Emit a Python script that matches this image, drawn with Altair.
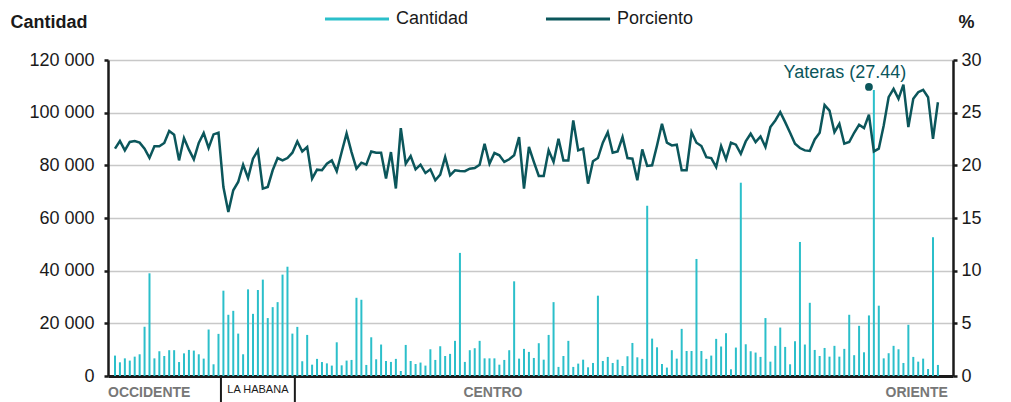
import altair as alt
import pandas as pd

# ---- data ----
cantidad = [
    7750, 5200, 6700, 5850, 7350, 8250, 18700, 39000, 6700, 9400,
    7600, 9800, 9800, 5300, 8600, 9900, 9650, 8250, 6600, 17650,
    4450, 16000, 32400, 23250, 24750, 16100, 8250, 32900, 23600, 32650,
    36600, 22000, 26150, 28050, 38500, 41500, 16100, 18650, 5600, 15600,
    4300, 6500, 5300, 4800, 3950, 12800, 4050, 5850, 6100, 29700,
    28950, 4200, 14700, 6350, 11950, 5700, 5350, 6500, 1900, 11800,
    5700, 4550, 5100, 3950, 10150, 6100, 11300, 7600, 8400, 13350,
    46750, 5350, 9800, 10550, 13350, 6700, 6700, 6700, 4300, 6100,
    9800, 35950, 6600, 10300, 9150, 6850, 12450, 6200, 15600, 28050,
    3450, 7600, 13350, 3450, 4700, 6200, 3300, 4950, 30500, 5700,
    7250, 4950, 6200, 3800, 7500, 12550, 7100, 6500, 64650, 14200,
    10900, 4550, 3200, 9800, 6600, 17900, 9500, 9500, 44450, 9500,
    6500, 7750, 14100, 11200, 16250, 2550, 10800, 73400, 12050, 9400,
    8900, 7250, 22000, 5450, 11450, 18400, 11050, 4450, 13200, 50900,
    11950, 27800, 9900, 7600, 10650, 7350, 11450, 7350, 10300, 23250,
    7900, 19050, 9000, 23000, 108600, 26700, 6700, 8650, 11450, 10150,
    4950, 19450, 7250, 5450, 6600, 2650, 52700, 4200,
]
porciento = [
    21.58, 22.31, 21.42, 22.22, 22.31, 22.15, 21.58, 20.70, 21.80, 21.80,
    22.12, 23.26, 22.91, 20.47, 22.59, 21.49, 20.57, 22.12, 23.07, 21.65,
    22.94, 23.10, 17.94, 15.58, 17.63, 18.42, 20.06, 18.80, 20.63, 21.42,
    17.79, 17.95, 19.53, 20.69, 20.47, 20.69, 21.20, 22.27, 21.32, 21.74,
    18.74, 19.59, 19.53, 20.16, 20.47, 19.43, 21.26, 23.03, 21.26, 19.68,
    20.25, 20.06, 21.32, 21.20, 21.20, 18.74, 21.26, 17.80, 23.53, 20.16,
    20.88, 19.62, 20.06, 19.27, 19.62, 18.58, 19.12, 20.79, 19.05, 19.53,
    19.46, 19.45, 19.68, 19.75, 20.06, 22.05, 20.16, 21.17, 20.95, 20.32,
    20.57, 20.95, 22.68, 17.79, 21.74, 20.32, 18.99, 18.99, 21.42, 20.32,
    22.52, 20.47, 20.47, 24.26, 21.42, 21.58, 18.26, 20.38, 20.69, 22.15,
    23.15, 21.20, 21.32, 22.68, 20.69, 20.63, 18.58, 21.51, 19.94, 20.00,
    21.89, 23.94, 22.15, 21.89, 21.96, 19.53, 19.53, 23.15, 22.15, 21.83,
    20.78, 20.69, 19.84, 21.83, 20.57, 22.15, 21.96, 21.10, 22.27, 23.00,
    22.21, 22.74, 21.74, 23.63, 24.26, 25.05, 24.10, 23.09, 22.05, 21.64,
    21.42, 21.36, 22.46, 23.09, 25.72, 25.20, 23.15, 23.94, 22.05, 22.21,
    23.09, 23.85, 23.53, 24.80, 21.32, 21.58, 23.79, 26.47, 27.26, 26.31,
    27.67, 23.63, 26.31, 26.94, 27.16, 26.47, 22.52, 25.99,
]
series_names = ["Cantidad", "Porciento"]
region_names = ["OCCIDENTE", "LA HABANA", "CENTRO", "ORIENTE"]
region_label_pos = [-1.42, 29.0, 76.7, 169.0]
region_label_align = ["left", "center", "center", "right"]
separators = [21.5, 36.5]
annot_label = ["Yateras (27.44)"]
annot_pos = [153]
annot_value = [27.44]
left_ticks = [0, 20000, 40000, 60000, 80000, 100000, 120000]
right_ticks = [0, 5, 10, 15, 20, 25, 30]

CYAN = "#2bbfca"
TEAL = "#0b565b"
FONT = "Liberation Sans, Arial, sans-serif"
TXT = "#1a1a1a"
GREY = "#777777"

n = len(cantidad)
df = pd.DataFrame({
    "i": list(range(n)),
    "cantidad": cantidad,
    "porciento": porciento,
    "zero": [0] * n,
})
df["serie_c"] = series_names[0]
df["serie_p"] = series_names[1]

reg = pd.DataFrame({"name": region_names, "pos": region_label_pos, "align": region_label_align})
sep = pd.DataFrame({"pos": separators})
ann = pd.DataFrame({"label": annot_label, "i": annot_pos, "v": annot_value})

xscale = alt.Scale(domain=[-1.42, 170.06], nice=False, zero=False)
xaxis = alt.Axis(labels=False, ticks=False, grid=False, title=None,
                 domainColor=TXT, domainWidth=3)

color_scale = alt.Scale(domain=series_names, range=[CYAN, TEAL])
legend = alt.Legend(title=None, orient="none", legendX=215, legendY=-75,
                    direction="horizontal", symbolType="stroke", symbolSize=4100,
                    symbolStrokeWidth=3, labelFontSize=18, labelFont=FONT,
                    labelColor=TXT, labelOffset=5, columnPadding=70)

left_axis = alt.Axis(values=left_ticks, title="Cantidad", titleAngle=0, titleAlign="left",
                     titleBaseline="alphabetic", titleX=-98, titleY=-33,
                     titleFont=FONT, titleFontSize=18, titleFontWeight="bold", titleColor=TXT,
                     labelFont=FONT, labelFontSize=18, labelColor=TXT, labelPadding=10,
                     labelExpr="replace(format(datum.value, ','), ',', ' ')",
                     tickSize=4, tickWidth=2.5, tickColor=TXT,
                     domainColor=TXT, domainWidth=2.5,
                     grid=True, gridColor="#c8c8c8", gridWidth=1.5)
right_axis = alt.Axis(values=right_ticks, orient="right", title="%", titleAngle=0,
                      titleAlign="left", titleBaseline="alphabetic", titleX=5, titleY=-33,
                      titleFont=FONT, titleFontSize=18, titleFontWeight="bold", titleColor=TXT,
                      labelFont=FONT, labelFontSize=18, labelColor=TXT, labelPadding=4,
                      tickSize=4, tickWidth=2.5, tickColor=TXT,
                      domainColor=TXT, domainWidth=2.5, grid=False)

yl = alt.Scale(domain=[0, 120000], nice=False)
yr = alt.Scale(domain=[0, 30], nice=False)

bars = alt.Chart(df).mark_rule(strokeWidth=2).encode(
    x=alt.X("i:Q", scale=xscale, axis=xaxis),
    y=alt.Y("cantidad:Q", scale=yl, axis=left_axis),
    y2=alt.Y2("zero:Q"),
    color=alt.Color("serie_c:N", scale=color_scale, legend=legend),
)

seps = alt.Chart(sep).mark_rule(strokeWidth=2, color=TXT).encode(
    x=alt.X("pos:Q", scale=xscale, axis=xaxis),
    y=alt.value(316), y2=alt.value(345),
)

def region_text(align, extra_filter=None, **kw):
    cond = alt.datum.align == align
    if extra_filter is not None:
        cond = cond & extra_filter
    return alt.Chart(reg).transform_filter(cond).mark_text(
        align=align, baseline="alphabetic", font=FONT, **kw).encode(
        x=alt.X("pos:Q", scale=xscale, axis=xaxis),
        y=alt.value(337),
        text="name:N",
    )

reg_left = region_text("left", fontSize=14, fontWeight="bold", color=GREY)
reg_right = region_text("right", fontSize=14, fontWeight="bold", color=GREY)
reg_center = region_text("center", alt.datum.name != "LA HABANA",
                         fontSize=14, fontWeight="bold", color=GREY)
reg_hab = alt.Chart(reg).transform_filter(alt.datum.name == "LA HABANA").mark_text(
    align="center", baseline="alphabetic", font=FONT, fontSize=11, color=TXT).encode(
    x=alt.X("pos:Q", scale=xscale, axis=xaxis), y=alt.value(333), text="name:N")

left_layer = alt.layer(bars, seps, reg_left, reg_right, reg_center, reg_hab)

line = alt.Chart(df).mark_line(strokeWidth=2.5, strokeJoin="miter").encode(
    x=alt.X("i:Q", scale=xscale, axis=xaxis),
    y=alt.Y("porciento:Q", scale=yr, axis=right_axis),
    color=alt.Color("serie_p:N", scale=color_scale, legend=legend),
)
dot = alt.Chart(ann).mark_circle(size=60, color=TEAL, opacity=1).encode(
    x=alt.X("i:Q", scale=xscale, axis=xaxis),
    y=alt.Y("v:Q", scale=yr, axis=right_axis),
)
label = alt.Chart(ann).mark_text(align="center", baseline="alphabetic", dx=-24, dy=-9,
                                 font=FONT, fontSize=18, color=TEAL).encode(
    x=alt.X("i:Q", scale=xscale, axis=xaxis),
    y=alt.Y("v:Q", scale=yr, axis=right_axis),
    text="label:N",
)
right_layer = alt.layer(line, dot, label)

chart = alt.layer(left_layer, right_layer).resolve_scale(y="independent").properties(
    width=845, height=316,
    autosize=alt.AutoSizeParams(type="none"),
    padding={"left": 100, "top": 52, "right": 50, "bottom": 26},
).configure_view(stroke=None).configure(background="white")

chart.save("out.html", embed_options={"renderer": "svg", "actions": False})
